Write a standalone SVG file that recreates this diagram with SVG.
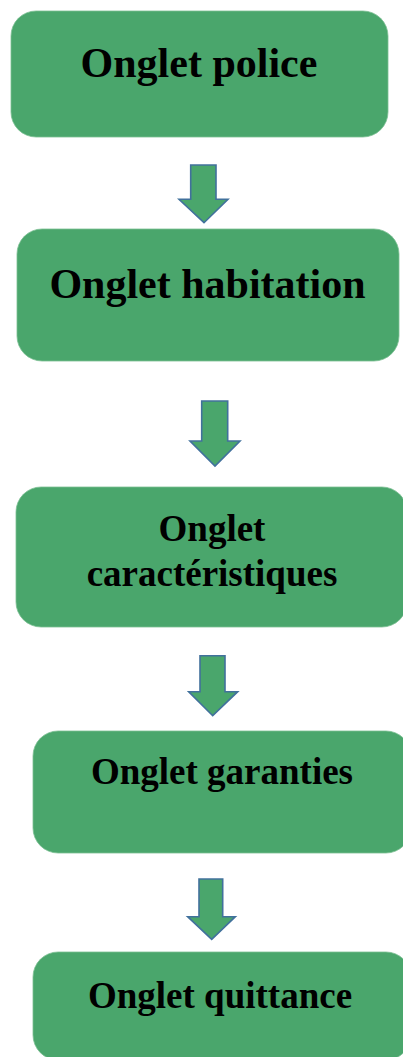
<svg xmlns="http://www.w3.org/2000/svg" width="403" height="1057" viewBox="0 0 403 1057">
<style>
.box{fill:#4aa66c;stroke:#7cbf93;stroke-width:0.8}
.arr{fill:#4aa66c;stroke:#41719c;stroke-width:1.6;stroke-linejoin:miter}
.t{font-family:"Liberation Serif","Times New Roman",serif;font-weight:bold;fill:#000;text-anchor:middle}
.big{font-size:42px}
.mid{font-size:37px}
</style>
<rect width="403" height="1057" fill="#fff"/>
<g id="connectors">
<path class="arr" d="M190.7,165 H216 V199.3 H228 L204,222.7 L179,199.3 H190.7 Z"/>
<path class="arr" d="M201.7,401 H227.7 V441 H240 L215,466 L190,441 H201.7 Z"/>
<path class="arr" d="M200,655.7 H225 V691.7 H237.7 L212.7,715.7 L188.7,691.7 H200 Z"/>
<path class="arr" d="M199,879 H222.7 V916.7 H235.3 L211.7,939.3 L187.7,916.7 H199 Z"/>
</g>
<g id="node1">
<rect class="box" x="11" y="11" width="377" height="126" rx="25"/>
<text class="t big" x="199" y="77">Onglet police</text>
</g>
<g id="node2">
<rect class="box" x="17" y="229" width="382" height="132" rx="25"/>
<text class="t big" x="207.5" y="298">Onglet habitation</text>
</g>
<g id="node3">
<rect class="box" x="16" y="487" width="391" height="140" rx="25"/>
<text class="t mid" x="212" y="541">Onglet</text>
<text class="t mid" x="212" y="586">caractéristiques</text>
</g>
<g id="node4">
<rect class="box" x="33" y="731" width="378" height="122" rx="25"/>
<text class="t mid" x="222" y="784">Onglet garanties</text>
</g>
<g id="node5">
<rect class="box" x="33" y="952" width="378" height="108" rx="25"/>
<text class="t mid" x="220" y="1008">Onglet quittance</text>
</g>
</svg>
